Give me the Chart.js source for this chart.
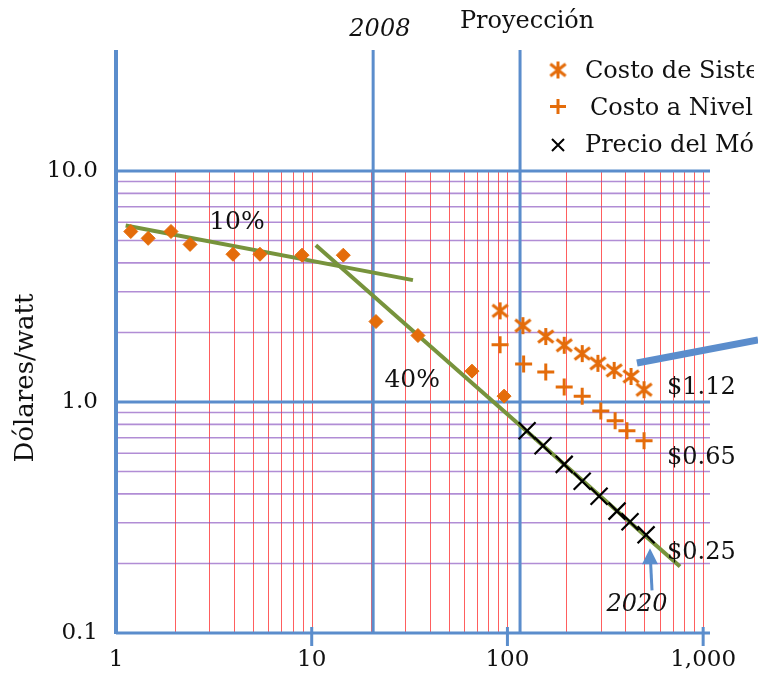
<!DOCTYPE html>
<html lang="es">
<head>
<meta charset="utf-8">
<title>Dólares/watt — curva de aprendizaje</title>
<script src="https://cdn.jsdelivr.net/npm/chart.js@4.4.1/dist/chart.umd.min.js"></script>
<style>
  html, body { margin: 0; padding: 0; background: #fff; }
  #wrap { width: 758px; height: 676px; }
</style>
</head>
<body>
<div id="wrap"><canvas id="curva" width="758" height="676"></canvas></div>
<script>
// valores (eje x logarítmico, eje y en dólares/watt)
const historicoX = [1.19, 1.46, 1.91, 2.39, 3.96, 5.44, 8.92, 14.5, 21.3, 34.9, 65.9, 96.1];
const historicoY = [5.47, 5.11, 5.47, 4.81, 4.36, 4.36, 4.32, 4.32, 2.23, 1.94, 1.36, 1.06];

const sistemaX = [91.7, 120, 157, 195, 241, 290, 351, 428, 499];
const sistemaY = [2.48, 2.14, 1.92, 1.76, 1.62, 1.47, 1.37, 1.29, 1.13];

const nivelX = [91.7, 121, 157, 195, 241, 300, 355, 408, 499];
const nivelY = [1.77, 1.46, 1.35, 1.16, 1.06, 0.915, 0.829, 0.751, 0.68];

const moduloX = [126, 152, 195, 241, 294, 363, 423, 511];
const moduloY = [0.751, 0.647, 0.537, 0.454, 0.391, 0.337, 0.303, 0.266];

// rectas de tendencia (10% y 40%)
const tend10X = [1.12, 32.9];
const tend10Y = [5.81, 3.37];
const tend40X = [10.5, 762];
const tend40Y = [4.77, 0.194];

// segmento azul que sale por la derecha
const flechaX = [459, 1908];
const flechaY = [1.475, 1.855];

const xTicks = [1, 10, 100, 1000];
const xTickLabels = ['1', '10', '100', '1,000'];
const yTicks = [0.1, 1, 10];
const yTickLabels = ['0.1', '1.0', '10.0'];

// líneas de la rejilla
const rejillaX = [2, 3, 4, 5, 6, 7, 8, 9, 10, 20, 30, 40, 50, 60, 70, 80, 90, 100,
                  200, 300, 400, 500, 600, 700, 800, 900, 1000];
const rejillaY = [0.2, 0.3, 0.4, 0.5, 0.6, 0.7, 0.8, 0.9, 2, 3, 4, 5, 6, 7, 8, 9];
const mayoresY = [0.1, 1, 10];
const verticalesAzules = [1, 20.6, 116];
const marcasX = [10, 100, 1000];

const AZUL = '#5b8dcc';
const NARANJA = '#e46c0a';
const VERDE = '#77933c';
const SERIF = '"DejaVu Serif", "Liberation Serif", serif';

function pares(xs, ys) {
  return xs.map((v, i) => ({ x: v, y: ys[i] }));
}

function asterisco(color, size, lw) {
  const c = document.createElement('canvas');
  c.width = size; c.height = size;
  const g = c.getContext('2d');
  const m = size / 2, r = size / 2 - 1;
  g.strokeStyle = color;
  g.lineWidth = lw;
  g.beginPath();
  g.moveTo(m, m - r); g.lineTo(m, m + r);
  const dx = r * 0.9, dy = r * 0.7;
  g.moveTo(m - dx, m - dy); g.lineTo(m + dx, m + dy);
  g.moveTo(m + dx, m - dy); g.lineTo(m - dx, m + dy);
  g.stroke();
  return c;
}
const estrella = asterisco(NARANJA, 19, 3);

const notas = [
  { texto: '10%', x: 4.15, y: 5.96, align: 'center', font: '25px ' + SERIF },
  { texto: '40%', x: 32.6, y: 1.245, align: 'center', font: '25px ' + SERIF },
  { texto: '$1.12', x: 654, y: 1.15, align: 'left', font: '24px ' + SERIF },
  { texto: '$0.65', x: 654, y: 0.572, align: 'left', font: '24px ' + SERIF },
  { texto: '$0.25', x: 654, y: 0.222, align: 'left', font: '24px ' + SERIF },
  { texto: '2020', x: 459, y: 0.132, align: 'center', font: 'italic 24px ' + SERIF },
  { texto: '2008', x: 22.3, y: 41.0, align: 'center', font: 'italic 24px ' + SERIF },
  { texto: 'Proyección', x: 126, y: 44.2, align: 'center', font: '24px ' + SERIF }
];

const rejilla = {
  id: 'rejilla',
  beforeDatasetsDraw(chart) {
    const { ctx, chartArea: a } = chart;
    const x = chart.scales.x, y = chart.scales.y;
    const y10 = y.getPixelForValue(10), y01 = y.getPixelForValue(0.1);
    ctx.save();
    ctx.lineWidth = 1;
    ctx.strokeStyle = 'rgba(255, 40, 40, 0.75)';
    rejillaX.forEach(v => {
      const px = Math.round(x.getPixelForValue(v)) + 0.5;
      ctx.beginPath(); ctx.moveTo(px, y10); ctx.lineTo(px, y01); ctx.stroke();
    });
    ctx.lineWidth = 1.6;
    ctx.strokeStyle = 'rgba(135, 80, 190, 0.65)';
    rejillaY.forEach(v => {
      const py = y.getPixelForValue(v);
      ctx.beginPath(); ctx.moveTo(a.left, py); ctx.lineTo(a.right, py); ctx.stroke();
    });
    ctx.strokeStyle = AZUL;
    ctx.lineWidth = 3;
    mayoresY.forEach(v => {
      const py = y.getPixelForValue(v);
      ctx.beginPath(); ctx.moveTo(a.left, py); ctx.lineTo(a.right, py); ctx.stroke();
    });
    verticalesAzules.forEach((v, i) => {
      const px = x.getPixelForValue(v);
      ctx.lineWidth = i === 0 ? 4 : 3;
      ctx.beginPath(); ctx.moveTo(px, a.top); ctx.lineTo(px, a.bottom + 1); ctx.stroke();
    });
    ctx.lineWidth = 3;
    marcasX.forEach(v => {
      const px = x.getPixelForValue(v);
      ctx.beginPath(); ctx.moveTo(px, a.bottom - 6); ctx.lineTo(px, a.bottom + 13); ctx.stroke();
    });
    ctx.restore();
  },
  afterDraw(chart) {
    const { ctx } = chart;
    const x = chart.scales.x, y = chart.scales.y;
    ctx.save();
    ctx.fillStyle = '#111';
    ctx.textBaseline = 'middle';
    notas.forEach(n => {
      ctx.font = n.font;
      ctx.textAlign = n.align;
      ctx.fillText(n.texto, x.getPixelForValue(n.x), y.getPixelForValue(n.y));
    });

    // flecha de 2020
    const ax = x.getPixelForValue(535), ay = y.getPixelForValue(0.233);
    const bx = x.getPixelForValue(548), by = y.getPixelForValue(0.153);
    ctx.strokeStyle = AZUL; ctx.fillStyle = AZUL; ctx.lineWidth = 3;
    ctx.beginPath(); ctx.moveTo(bx, by); ctx.lineTo(ax + 0.5, ay + 12); ctx.stroke();
    ctx.beginPath();
    ctx.moveTo(ax, ay); ctx.lineTo(ax - 8, ay + 16); ctx.lineTo(ax + 8, ay + 16);
    ctx.closePath(); ctx.fill();

    // título del eje y
    ctx.fillStyle = '#111';
    ctx.font = '26px ' + SERIF;
    ctx.textAlign = 'center';
    ctx.translate(26, 378);
    ctx.rotate(-Math.PI / 2);
    ctx.fillText('Dólares/watt', 0, 0);
    ctx.restore();

    // leyenda
    ctx.save();
    ctx.beginPath(); ctx.rect(0, 0, 754, 200); ctx.clip();
    ctx.font = '24px ' + SERIF;
    ctx.fillStyle = '#111';
    ctx.textAlign = 'left';
    ctx.textBaseline = 'middle';
    ctx.drawImage(estrella, 558 - 9.5, 70 - 9.5);
    ctx.fillText('Costo de Sistema', 585, 72);
    ctx.strokeStyle = NARANJA; ctx.lineWidth = 3;
    ctx.beginPath();
    ctx.moveTo(558, 99); ctx.lineTo(558, 114); ctx.moveTo(550, 106.5); ctx.lineTo(566, 106.5);
    ctx.stroke();
    ctx.fillText('Costo a Nivel', 590, 109);
    ctx.strokeStyle = '#000'; ctx.lineWidth = 2;
    ctx.beginPath();
    ctx.moveTo(552, 139); ctx.lineTo(564, 151); ctx.moveTo(564, 139); ctx.lineTo(552, 151);
    ctx.stroke();
    ctx.fillText('Precio del Módulo', 585, 146);
    ctx.restore();
  }
};

new Chart(document.getElementById('curva'), {
  type: 'scatter',
  data: {
    datasets: [
      {
        label: 'Histórico',
        data: pares(historicoX, historicoY),
        pointStyle: 'rectRot', pointRadius: 7,
        backgroundColor: NARANJA, borderColor: NARANJA, borderWidth: 1,
        order: 2
      },
      {
        label: 'Costo de Sistema',
        data: pares(sistemaX, sistemaY),
        pointStyle: estrella, pointRadius: 9,
        order: 1
      },
      {
        label: 'Costo a Nivel',
        data: pares(nivelX, nivelY),
        pointStyle: 'cross', pointRadius: 8.5,
        borderColor: NARANJA, borderWidth: 3,
        order: 1
      },
      {
        label: 'Precio del Módulo',
        data: pares(moduloX, moduloY),
        pointStyle: 'crossRot', pointRadius: 12,
        borderColor: '#000', borderWidth: 2.2,
        order: 1
      },
      {
        type: 'line', label: 'Tendencia 10%',
        data: pares(tend10X, tend10Y),
        borderColor: VERDE, borderWidth: 4, pointRadius: 0,
        order: 5
      },
      {
        type: 'line', label: 'Tendencia 40%',
        data: pares(tend40X, tend40Y),
        borderColor: VERDE, borderWidth: 4, pointRadius: 0,
        order: 5
      },
      {
        type: 'line', label: 'flecha',
        data: pares(flechaX, flechaY),
        borderColor: AZUL, borderWidth: 7, pointRadius: 0,
        borderCapStyle: 'butt', clip: false,
        order: 0
      }
    ]
  },
  options: {
    responsive: false,
    animation: false,
    layout: { padding: { top: 50, right: 48, left: 0, bottom: 0 } },
    plugins: {
      legend: { display: false },
      tooltip: { enabled: false }
    },
    scales: {
      x: {
        type: 'logarithmic',
        min: 1, max: 1084,
        grid: { display: false, drawTicks: false },
        border: { display: false },
        afterBuildTicks: s => { s.ticks = xTicks.map(v => ({ value: v })); },
        afterFit: s => { s.height = 43; },
        ticks: {
          autoSkip: false, maxRotation: 0, padding: 13,
          color: '#111',
          font: { family: SERIF, size: 23 },
          callback: (v, i) => xTickLabels[i]
        }
      },
      y: {
        type: 'logarithmic',
        min: 0.1, max: 33.4,
        grid: { display: false, drawTicks: false },
        border: { display: false },
        afterBuildTicks: s => { s.ticks = yTicks.map(v => ({ value: v })); },
        afterFit: s => { s.width = 116; },
        ticks: {
          autoSkip: false, padding: 18,
          color: '#111',
          font: { family: SERIF, size: 23 },
          callback: (v, i) => yTickLabels[i]
        }
      }
    }
  },
  plugins: [rejilla]
});
</script>
</body>
</html>
